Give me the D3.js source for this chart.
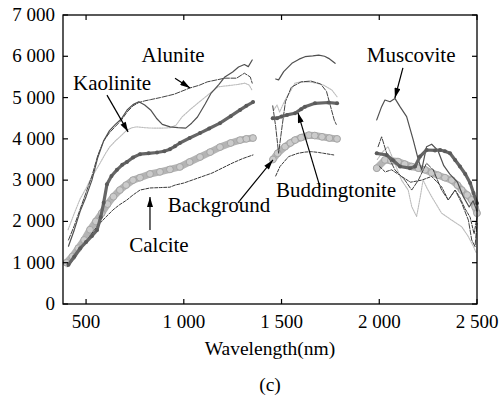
<!DOCTYPE html>
<html>
<head>
  <meta charset="utf-8">
  <script src="https://d3js.org/d3.v7.min.js"></script>
</head>
<body style="margin:0">
<script>
// spectra, [wavelength nm, value], one sub-array per band (water bands left out)
var muscovite = [
  [[410,1400],[440,1800],[470,2250],[500,2600],[530,3000],[560,3550],[590,3950],[620,4200],[650,4350],[680,4480],[710,4700],[740,4830],[770,4900],[800,4820],[830,4700],[860,4500],[890,4350],[930,4290],[970,4270],[1010,4260],[1040,4380],[1070,4530],[1110,4850],[1140,5110],[1180,5320],[1210,5500],[1250,5620],[1280,5740],[1310,5800],[1330,5750],[1350,5910]],
  [[1470,5450],[1485,5430],[1511,5630],[1553,5830],[1590,5930],[1620,5990],[1660,6010],[1690,6030],[1720,6000],[1741,5950],[1774,5830]],
  [[1987,4460],[2012,4780],[2029,4940],[2055,4900],[2080,4980],[2106,4780],[2140,4540],[2174,3970],[2200,3490],[2217,3250],[2242,3810],[2268,3870],[2300,3720],[2330,3350],[2360,3150],[2400,2950],[2430,2600],[2460,2350],[2480,2500],[2500,2250]]
];
var alunite = [
  [[410,1550],[440,1900],[470,2300],[500,2700],[530,3100],[560,3600],[590,3950],[620,4150],[650,4300],[680,4450],[710,4650],[740,4800],[770,4880],[800,4920],[830,4950],[880,5000],[950,5080],[1030,5230],[1080,5300],[1120,5380],[1170,5430],[1210,5470],[1270,5470],[1310,5590],[1340,5500],[1350,5350]],
  [[1455,4800],[1470,4300],[1485,3650],[1500,4200],[1520,4900],[1550,5250],[1600,5380],[1650,5400],[1700,5330],[1730,5150],[1750,4800],[1770,4450],[1780,4350]],
  [[1994,3810],[2012,4050],[2038,3650],[2080,3250],[2131,3000],[2166,2760],[2200,3000],[2242,3410],[2276,3250],[2319,2760],[2353,2520],[2388,2760],[2422,2440],[2456,2030],[2473,1550],[2490,1390],[2500,1950]]
];
var kaolinite = [
  [[408,1800],[440,2200],[470,2550],[500,2800],[520,3000],[545,3200],[570,3400],[600,3650],[620,3800],[650,3950],[673,4050],[709,4210],[735,4270],[760,4290],[800,4270],[842,4260],[890,4260],[929,4270],[960,4330],[991,4530],[1030,4700],[1073,4870],[1120,5050],[1175,5260],[1210,5280],[1247,5300],[1280,5320],[1313,5350],[1335,5300],[1349,5180]],
  [[1460,4700],[1477,4820],[1490,4650],[1518,4940],[1545,5150],[1569,5350],[1600,5380],[1640,5380],[1680,5350],[1716,5300],[1758,5180],[1784,5020]],
  [[1990,3500],[2020,3700],[2045,3810],[2080,3400],[2114,3000],[2148,2760],[2166,2360],[2191,2120],[2210,2600],[2224,3000],[2245,2800],[2268,2600],[2319,2200],[2371,2030],[2422,1870],[2456,1630],[2482,1390],[2495,1250]]
];
var buddingtonite = [
  [[410,950],[440,1150],[470,1350],[500,1500],[530,1650],[556,1790],[575,2100],[590,2450],[607,2900],[630,3100],[658,3250],[685,3370],[709,3440],[740,3550],[776,3630],[820,3650],[863,3670],[900,3700],[929,3750],[955,3820],[980,3900],[1030,4020],[1083,4140],[1130,4250],[1185,4380],[1240,4550],[1288,4700],[1320,4800],[1354,4890]],
  [[1455,4500],[1477,4500],[1500,4540],[1528,4580],[1569,4620],[1600,4720],[1620,4780],[1671,4860],[1741,4880],[1784,4860]],
  [[1987,3650],[2038,3610],[2070,3480],[2106,3330],[2157,3290],[2183,3330],[2208,3570],[2242,3730],[2285,3720],[2311,3730],[2336,3700],[2362,3650],[2388,3490],[2413,3330],[2440,3150],[2465,2930],[2482,2690],[2500,2440]]
];
var background = [
  [[400,1000],[430,1150],[460,1350],[490,1550],[520,1800],[550,2000],[580,2200],[610,2420],[640,2600],[673,2760],[705,2880],[740,3000],[776,3060],[827,3150],[878,3200],[929,3260],[980,3320],[1030,3440],[1083,3560],[1135,3680],[1185,3800],[1240,3900],[1288,3970],[1320,4000],[1354,4020]],
  [[1456,3500],[1480,3650],[1518,3810],[1545,3900],[1569,3970],[1600,4030],[1640,4090],[1670,4080],[1707,4050],[1745,4020],[1784,4000]],
  [[1987,3290],[2029,3490],[2060,3470],[2096,3450],[2130,3390],[2166,3330],[2200,3290],[2234,3250],[2268,3180],[2301,3120],[2336,3060],[2371,3000],[2400,2880],[2422,2760],[2450,2640],[2473,2520],[2490,2350],[2500,2200]]
];
var calcite = [
  [[405,900],[430,1050],[460,1250],[490,1450],[520,1650],[560,1900],[600,2100],[638,2280],[670,2400],[709,2520],[740,2640],[776,2760],[827,2810],[880,2820],[929,2830],[955,2880],[1000,2930],[1042,3000],[1090,3080],[1144,3170],[1200,3300],[1247,3410],[1300,3520],[1354,3610]],
  [[1470,3100],[1492,3330],[1536,3570],[1584,3650],[1620,3680],[1654,3690],[1690,3670],[1716,3650],[1767,3610]],
  [[2002,3330],[2030,3200],[2063,3250],[2114,3090],[2160,2950],[2217,3000],[2268,3090],[2319,2840],[2353,2520],[2388,2760],[2410,2600],[2440,2300],[2465,2100],[2485,1700],[2500,2100]]
];

var xTicks = [500, 1000, 1500, 2000, 2500];
var yTicks = [0, 1000, 2000, 3000, 4000, 5000, 6000, 7000];

// label text, label anchor [nm, value], arrow tail, arrow tip
var labels = [
  {text: "Alunite",       at: [945, 5860],  from: [955, 5470],  to: [1032, 5230]},
  {text: "Kaolinite",     at: [633, 5180],  from: [607, 5060],  to: [715, 4170]},
  {text: "Muscovite",     at: [2163, 5860], from: [2121, 5720], to: [2080, 4990]},
  {text: "Buddingtonite", at: [1779, 2590], from: [1697, 2830], to: [1584, 4630]},
  {text: "Background",    at: [1180, 2230], from: [1277, 2450], to: [1456, 3490]},
  {text: "Calcite",       at: [873, 1260],  from: [827, 1790],  to: [827, 2590]}
];

var W = 504, H = 401;
var m = {left: 63, right: 27, top: 15, bottom: 97};

var svg = d3.select("body").append("svg")
    .attr("width", W).attr("height", H);

svg.append("rect").attr("width", W).attr("height", H).attr("fill", "#fff");

var x = d3.scaleLinear().domain([382, 2500]).range([m.left, W - m.right]);
var y = d3.scaleLinear().domain([0, 7000]).range([H - m.bottom, m.top]);

function fmt(n) {
  if (n < 1000) return String(n);
  var r = String(n % 1000);
  while (r.length < 3) r = "0" + r;
  return Math.floor(n / 1000) + " " + r;
}

var line = d3.line().x(function(d) { return x(d[0]); }).y(function(d) { return y(d[1]); });

function drawSeries(segs, style) {
  var g = svg.append("g");
  g.selectAll("path").data(segs).enter().append("path")
    .attr("d", line)
    .attr("fill", "none")
    .attr("stroke", style.color)
    .attr("stroke-width", style.width)
    .attr("stroke-dasharray", style.dash || null)
    .attr("stroke-linejoin", "round")
    .attr("stroke-linecap", "round");
  return g;
}

// background: wide light band with open circles
var bg = drawSeries(background, {color: "#b4b4b4", width: 7});
bg.selectAll("circle").data(d3.merge(background)).enter().append("circle")
  .attr("cx", function(d) { return x(d[0]); })
  .attr("cy", function(d) { return y(d[1]); })
  .attr("r", 3.4)
  .attr("fill", "#cbcbcb")
  .attr("stroke", "#9d9d9d")
  .attr("stroke-width", 0.8);

drawSeries(calcite, {color: "#3a3a3a", width: 1, dash: "3,1.5"});
drawSeries(kaolinite, {color: "#bcbcbc", width: 1.1, dash: "1.5,1"});
drawSeries(alunite, {color: "#444", width: 1, dash: "5,1.5"});
drawSeries(muscovite, {color: "#505050", width: 1.2});

var bud = drawSeries(buddingtonite, {color: "#666", width: 3.2});
bud.selectAll("circle").data(d3.merge(buddingtonite)).enter().append("circle")
  .attr("cx", function(d) { return x(d[0]); })
  .attr("cy", function(d) { return y(d[1]); })
  .attr("r", 2)
  .attr("fill", "#5a5a5a");

// frame
var x0 = x.range()[0], x1 = x.range()[1], y0 = y.range()[0], y1 = y.range()[1];
svg.append("rect")
  .attr("x", x0).attr("y", y1)
  .attr("width", x1 - x0).attr("height", y0 - y1)
  .attr("fill", "none").attr("stroke", "#000").attr("stroke-width", 1.3);

var tk = 5;
var ticks = svg.append("g").attr("stroke", "#000").attr("stroke-width", 1.2);
xTicks.forEach(function(v) {
  ticks.append("line").attr("x1", x(v)).attr("x2", x(v)).attr("y1", y0).attr("y2", y0 - tk);
  ticks.append("line").attr("x1", x(v)).attr("x2", x(v)).attr("y1", y1).attr("y2", y1 + tk);
});
yTicks.forEach(function(v) {
  ticks.append("line").attr("x1", x0).attr("x2", x0 + tk).attr("y1", y(v)).attr("y2", y(v));
  ticks.append("line").attr("x1", x1).attr("x2", x1 - tk).attr("y1", y(v)).attr("y2", y(v));
});

// every text goes through here
function label(px, py, anchor, s, size) {
  svg.append("text")
    .attr("x", px).attr("y", py)
    .attr("font-size", size)
    .style("font-family", "'Liberation Serif'")
    .attr("text-anchor", anchor)
    .text(s);
}

xTicks.forEach(function(v) { label(x(v), y0 + 24, "middle", fmt(v), 19); });
yTicks.forEach(function(v) { label(x0 - 8, y(v) + 6, "end", fmt(v), 19); });
label((x0 + x1) / 2, y0 + 51, "middle", "Wavelength(nm)", 19.5);
label((x0 + x1) / 2, y0 + 87, "middle", "(c)", 19.5);

// annotations
svg.append("defs").append("marker")
  .attr("id", "head")
  .attr("viewBox", "0 0 10 6")
  .attr("refX", 10).attr("refY", 3)
  .attr("markerWidth", 11).attr("markerHeight", 6)
  .attr("markerUnits", "userSpaceOnUse")
  .attr("orient", "auto")
  .append("path").attr("d", "M0,0L10,3L0,6Z").attr("fill", "#000");

labels.forEach(function(l) {
  svg.append("line")
    .attr("x1", x(l.from[0])).attr("y1", y(l.from[1]))
    .attr("x2", x(l.to[0])).attr("y2", y(l.to[1]))
    .attr("stroke", "#000").attr("stroke-width", 1.2)
    .attr("marker-end", "url(#head)");
  label(x(l.at[0]), y(l.at[1]), "middle", l.text, 21);
});
</script>
</body>
</html>
